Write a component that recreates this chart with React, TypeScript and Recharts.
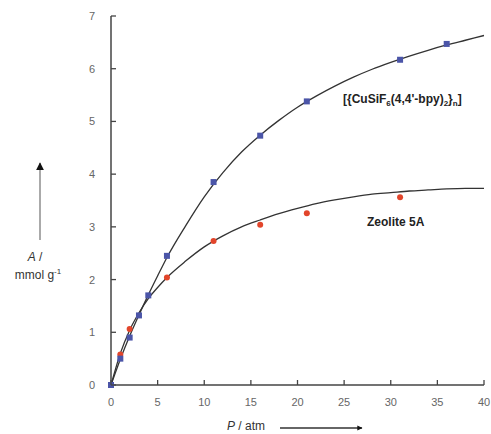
import { ComposedChart, Line, Scatter, XAxis, YAxis } from 'recharts';

// measured points
const cuX = [0, 1, 2, 3, 4, 6, 11, 16, 21, 31, 36];
const cuY = [0, 0.5, 0.9, 1.32, 1.7, 2.45, 3.85, 4.73, 5.38, 6.17, 6.47];
const zeoX = [1, 2, 6, 11, 16, 21, 31];
const zeoY = [0.58, 1.06, 2.04, 2.73, 3.04, 3.26, 3.56];

// fitted curves
const fitX = [0, 1, 2, 3, 4, 5, 6, 8, 10, 12, 14, 16, 18, 20, 22, 24, 26, 28, 30, 32, 34, 36, 38, 40];
const cuFitY = [0, 0.49, 0.93, 1.33, 1.71, 2.07, 2.42, 3.02, 3.57, 4.03, 4.42, 4.74, 5.02, 5.27, 5.48, 5.67, 5.84, 5.99, 6.12, 6.24, 6.35, 6.45, 6.54, 6.63];
const zeoFitY = [0, 0.6, 1.04, 1.37, 1.64, 1.85, 2.04, 2.35, 2.62, 2.83, 3.0, 3.13, 3.25, 3.35, 3.44, 3.51, 3.57, 3.62, 3.65, 3.68, 3.7, 3.72, 3.73, 3.73];

const xTicks = [0, 5, 10, 15, 20, 25, 30, 35, 40];
const yTicks = [0, 1, 2, 3, 4, 5, 6, 7];

const FONT = '"Liberation Sans", Arial, sans-serif';
const AXIS = '#444';

const zip = (xs: number[], ys: number[]) => xs.map((x, i) => ({ x, y: ys[i] }));

function YTick({ x, y, payload }: any) {
  return (
    <g>
      <line x1={x} y1={y} x2={x + 5} y2={y} stroke={AXIS} strokeWidth={1.3} />
      <text x={x - 16} y={y + 4} textAnchor="end" fontSize={11} fill="#666" fontFamily={FONT}>
        {payload.value}
      </text>
    </g>
  );
}

function XTick({ x, y, payload }: any) {
  return (
    <g>
      <line x1={x} y1={y} x2={x} y2={y - 5} stroke={AXIS} strokeWidth={1.3} />
      <text x={x} y={y + 21} textAnchor="middle" fontSize={11} fill="#666" fontFamily={FONT}>
        {payload.value}
      </text>
    </g>
  );
}

const square = (p: any) => <rect x={p.cx - 3} y={p.cy - 3} width={6} height={6} fill="#4b55a8" />;
const circle = (p: any) => <circle cx={p.cx} cy={p.cy} r={3} fill="#e2452b" />;

export default function App() {
  return (
    <div style={{ position: 'absolute', left: 0, top: 0, width: 491, height: 434, background: '#fff' }}>
      <ComposedChart width={491} height={434} margin={{ top: 16, right: 7, left: 0, bottom: 0 }}>
        <XAxis
          dataKey="x"
          type="number"
          domain={[0, 40]}
          ticks={xTicks}
          height={49}
          tickSize={0}
          tickMargin={0}
          tickLine={false}
          tick={XTick}
          stroke={AXIS}
          strokeWidth={1.5}
          interval={0}
        />
        <YAxis
          type="number"
          domain={[0, 7]}
          ticks={yTicks}
          width={111}
          tickSize={0}
          tickMargin={0}
          tickLine={false}
          tick={YTick}
          stroke={AXIS}
          strokeWidth={1.5}
          interval={0}
        />
        <Line data={zip(fitX, cuFitY)} dataKey="y" type="monotone" stroke="#333" strokeWidth={1.3} dot={false} isAnimationActive={false} />
        <Line data={zip(fitX, zeoFitY)} dataKey="y" type="monotone" stroke="#333" strokeWidth={1.3} dot={false} isAnimationActive={false} />
        <Scatter data={zip(zeoX, zeoY)} dataKey="y" shape={circle} isAnimationActive={false} />
        <Scatter data={zip(cuX, cuY)} dataKey="y" shape={square} isAnimationActive={false} />
      </ComposedChart>
      <svg width={491} height={434} style={{ position: 'absolute', left: 0, top: 0, pointerEvents: 'none' }}>
        <defs>
          <marker id="head" viewBox="0 0 10 10" refX="9" refY="5" markerWidth="4" markerHeight="4" orient="auto">
            <path d="M0,0 L10,5 L0,10 z" fill="#111" />
          </marker>
        </defs>
        <line x1={40} y1={240} x2={40} y2={163} stroke="#aaa" strokeWidth={2} markerEnd="url(#head)" />
        <text x={35} y={261} textAnchor="middle" fontSize={12} fill="#333" fontFamily={FONT}>
          <tspan fontStyle="italic">A</tspan> /
        </text>
        <text x={38} y={279} textAnchor="middle" fontSize={12} fill="#333" fontFamily={FONT}>
          mmol g<tspan fontSize={8} dy={-5}>-1</tspan>
        </text>
        <text x={227} y={430} fontSize={12} fill="#333" fontFamily={FONT}>
          <tspan fontStyle="italic">P</tspan> / atm
        </text>
        <line x1={280} y1={428} x2={362} y2={428} stroke="#333" strokeWidth={1.3} markerEnd="url(#head)" />
        <text x={343} y={103} fontSize={12} fontWeight="bold" fill="#222" fontFamily={FONT}>
          {'[{CuSiF'}
          <tspan fontSize={8} dy={3}>6</tspan>
          <tspan dy={-3}>(4,4'-bpy)</tspan>
          <tspan fontSize={8} dy={3}>2</tspan>
          <tspan dy={-3}>{'}'}</tspan>
          <tspan fontSize={8} dy={3}>n</tspan>
          <tspan dy={-3}>]</tspan>
        </text>
        <text x={367} y={226} fontSize={12} fontWeight="bold" fill="#222" fontFamily={FONT}>
          Zeolite 5A
        </text>
      </svg>
    </div>
  );
}
